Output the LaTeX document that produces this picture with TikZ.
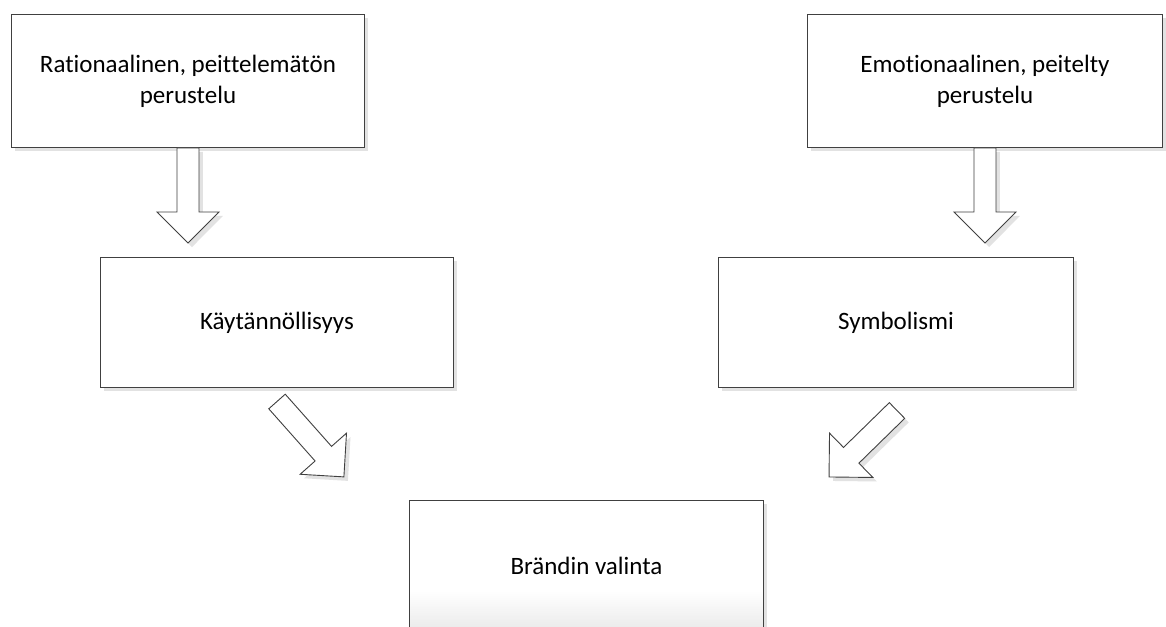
\documentclass[tikz,border=0pt]{standalone}
\usepackage{fontspec}
\setmainfont{Carlito}[Ligatures=NoCommon]
\usetikzlibrary{calc,shadows}

\definecolor{edge}{HTML}{404040}
\definecolor{shade}{HTML}{E2E2E2}
\definecolor{foot}{HTML}{EBEBEB}

\tikzset{
  softshadow/.style={drop shadow={shadow xshift=4pt, shadow yshift=-4pt,
      fill=shade, opacity=1}},
  box/.style={draw=edge, line width=0.9pt, fill=white, anchor=north west,
      inner sep=0pt, align=center, text=black,
      font=\fontsize{25}{31}\selectfont, softshadow},
  fat/.style={draw=edge, line width=0.9pt, fill=white, line join=miter,
      softshadow},
  % white face that fades to light grey over the last 38pt
  fadefoot/.style={path picture={
      \foreach \i in {0,...,37}{
        \pgfmathtruncatemacro\mix{\i*100/37}
        \fill[foot!\mix!white]
          ($(path picture bounding box.south west)+(0,-38+\i)$)
          rectangle ($(path picture bounding box.south east)+(0,-39+\i-0.2)$);
      }}},
}

% hollow block arrow from #1 (middle of the tail) to #2 (tip)
\newcommand\fatarrow[2]{%
  \path[fat] let \p1=#1, \p2=#2,
      \n1={atan2(\y2-\y1,\x2-\x1)}, \n2={veclen(\x2-\x1,\y2-\y1)} in
    [shift={(\p1)}, rotate=\n1]
    (0,-11) -- (\n2-31,-11) -- (\n2-31,-31) -- (\n2,0)
    -- (\n2-31,31) -- (\n2-31,11) -- (0,11) -- cycle;
}

\begin{document}
\begin{tikzpicture}[x=1pt, y=-1pt]
\useasboundingbox[fill=white] (0,0) rectangle (1166,626);

% boxes
\node[box, minimum width=353pt, minimum height=133pt] (rat) at (11,14)
  {Rationaalinen, peittelemätön\\perustelu};
\node[box, minimum width=355pt, minimum height=133pt] (emo) at (807,14)
  {Emotionaalinen, peitelty\\perustelu};
\node[box, minimum width=353pt, minimum height=130pt] (kay) at (100,257)
  {Käytännöllisyys};
\node[box, minimum width=355pt, minimum height=130pt] (sym) at (718,257)
  {Symbolismi};
\node[box, fadefoot, minimum width=354pt, minimum height=130pt] (bra) at (409,500)
  {Brändin valinta};

% tips of the arrows
\coordinate (t1) at (188,243);
\coordinate (t2) at (985,243);
\coordinate (s3) at (277,401.5);
\coordinate (t3) at (344,477);
\coordinate (s4) at (897,410.5);
\coordinate (t4) at (829,477);

% connectors
\fatarrow{(rat.south)}{(t1)}
\fatarrow{(emo.south)}{(t2)}
\fatarrow{(s3)}{(t3)}
\fatarrow{(s4)}{(t4)}
\end{tikzpicture}
\end{document}
